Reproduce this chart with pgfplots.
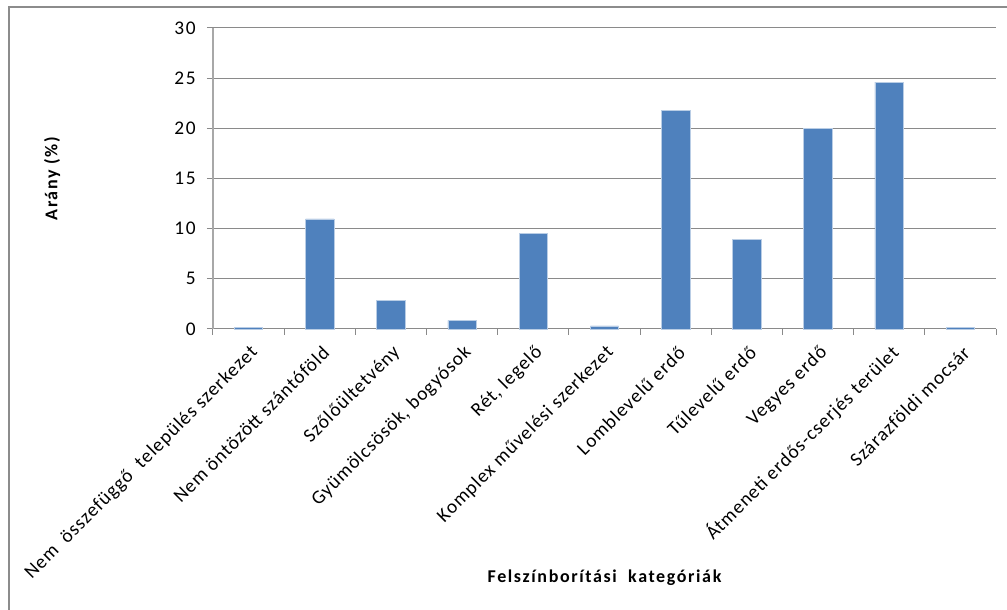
\documentclass[border=0pt]{standalone}
\usepackage{fontspec}
\setmainfont{Carlito}
\usepackage{pgfplots}
\pgfplotsset{compat=1.18}
\definecolor{barblue}{HTML}{4F81BD}
\definecolor{baredge}{HTML}{B9CDE5}
\definecolor{gridgray}{HTML}{8A8A8A}
\definecolor{axisgray}{HTML}{A8A8A8}
\definecolor{framegray}{HTML}{8C8C8C}

\newcommand{\catfont}{\fontsize{14.5}{17}\selectfont\addfontfeature{LetterSpace=5}}
\newcommand{\titlefont}{\fontsize{13.5}{16}\selectfont\bfseries\addfontfeature{LetterSpace=9}}

\begin{document}
\begin{tikzpicture}[x=1pt,y=1pt]
\useasboundingbox (0,0) rectangle (755.25,457.5);
% outer frame (left and top edges)
\draw[framegray, line width=1.5pt] (6.5,0) -- (6.5,452.25) -- (755.25,452.25);
\begin{axis}[
  at={(159.75pt,210.75pt)}, anchor=south west,
  scale only axis, width=587.25pt, height=225.75pt,
  xmin=0, xmax=11, ymin=0, ymax=30,
  ytick={0,5,10,15,20,25,30},
  xtick={0.5,1.5,2.5,3.5,4.5,5.5,6.5,7.5,8.5,9.5,10.5},
  xticklabels={
    Nem~ összefüggő~ település szerkezet,
    Nem öntözött szántóföld,
    Szőlőültetvény,
    {Gyümölcsösök, bogyósok},
    {Rét, legelő},
    Komplex művelési szerkezet,
    Lomblevelű erdő,
    Tűlevelű erdő,
    Vegyes erdő,
    Átmeneti erdős-cserjés terület,
    Szárazföldi mocsár},
  minor xtick={0,1,2,3,4,5,6,7,8,9,10,11},
  tick align=outside,
  major tick length=4.5pt, minor tick length=4.5pt,
  x tick style={draw=none},
  minor x tick style={draw=gridgray, line width=0.75pt},
  y tick style={draw=gridgray, line width=0.75pt},
  ymajorgrids,
  grid style={gridgray, line width=0.75pt},
  axis x line*=bottom, axis y line*=left,
  x axis line style={gridgray, line width=0.75pt, -},
  y axis line style={axisgray, line width=1pt, -},
  /pgf/number format/assume math mode=true,
  yticklabel style={font=\fontsize{14.5}{17}\selectfont\addfontfeature{LetterSpace=8}, xshift=-5pt},
  xticklabel style={font=\catfont, rotate=45, anchor=east, xshift=-1pt, yshift=-11pt},
  xlabel={Felszínborítási\ \ kategóriák},
  ylabel={Arány (\%)},
  xlabel style={font=\titlefont, at={(axis description cs:0.5,-0.827)}, anchor=center},
  ylabel style={font=\titlefont, at={(axis description cs:-0.2056,0.5)}, anchor=center},
  clip=false,
]
\addplot[ybar, bar width=0.4, fill=barblue, draw=baredge, line width=0.6pt]
  coordinates {
    (0.5,0.15) (1.5,10.97) (2.5,2.86) (3.5,0.86) (4.5,9.51) (5.5,0.3)
    (6.5,21.78) (7.5,8.95) (8.5,19.99) (9.5,24.6) (10.5,0.15)
  };
\end{axis}
\end{tikzpicture}
\end{document}
